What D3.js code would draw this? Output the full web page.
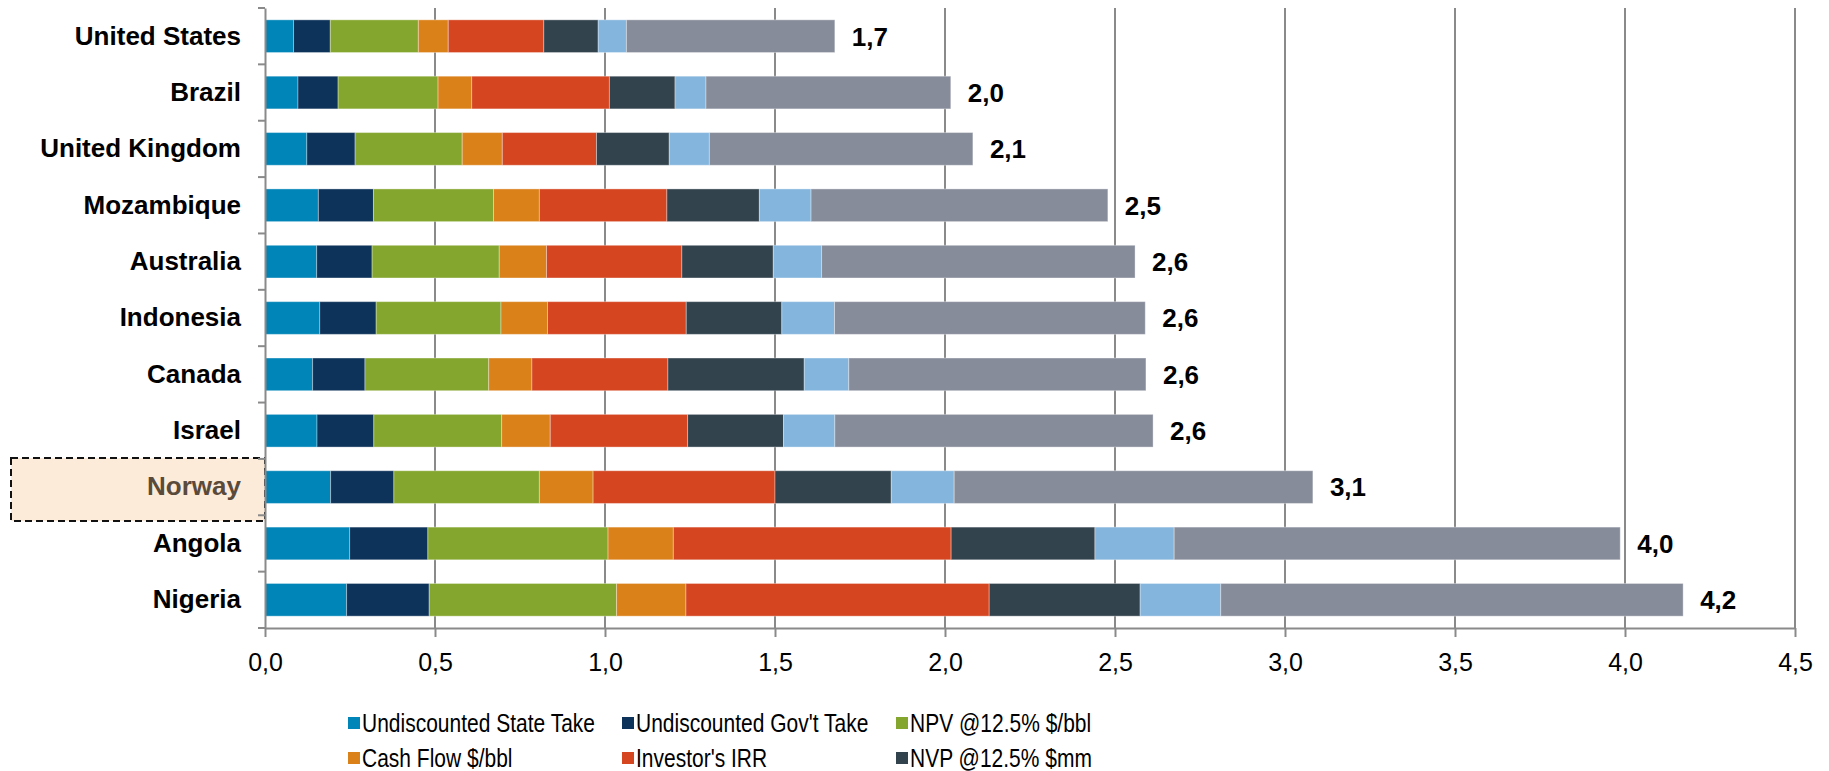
<!DOCTYPE html>
<html>
<head>
<meta charset="utf-8">
<script src="https://cdn.jsdelivr.net/npm/d3@7"></script>
<style>
  html, body { margin: 0; padding: 0; background: #fff; }
  svg { display: block; }
  text { font-family: Arial, "Liberation Sans", sans-serif; }
</style>
</head>
<body>
<svg id="chart" width="1829" height="771"></svg>
<script>
// ---------- data ----------
const categories = ["United States","Brazil","United Kingdom","Mozambique","Australia","Indonesia","Canada","Israel","Norway","Angola","Nigeria"];
const seriesNames = ["Undiscounted State Take","Undiscounted Gov't Take","NPV @12.5% $/bbl","Cash Flow $/bbl","Investor's IRR","NVP @12.5% $mm","Series 7","Series 8"];
const stateTake  = [0.084,0.097,0.123,0.157,0.152,0.161,0.140,0.153,0.193,0.249,0.240];
const govTake    = [0.108,0.118,0.142,0.162,0.163,0.166,0.154,0.167,0.186,0.230,0.243];
const npvBbl     = [0.259,0.294,0.315,0.353,0.374,0.367,0.364,0.376,0.428,0.530,0.551];
const cashFlow   = [0.088,0.099,0.118,0.135,0.139,0.137,0.127,0.143,0.158,0.192,0.204];
const investorIRR= [0.281,0.405,0.277,0.375,0.398,0.408,0.400,0.404,0.535,0.817,0.892];
const nvpMm      = [0.160,0.193,0.214,0.272,0.269,0.281,0.401,0.282,0.342,0.423,0.444];
const series7    = [0.083,0.091,0.118,0.152,0.142,0.155,0.131,0.151,0.185,0.233,0.237];
const series8    = [0.613,0.720,0.775,0.873,0.922,0.914,0.874,0.936,1.055,1.312,1.360];
const xTicks = [0,0.5,1,1.5,2,2.5,3,3.5,4,4.5];
const xTickLabels = ["0,0","0,5","1,0","1,5","2,0","2,5","3,0","3,5","4,0","4,5"];
const legendItems = seriesNames.slice(0, 6);
const highlighted = "Norway";

const colors = ["#0085b8","#0e335a","#84a62e","#db811a","#d44520","#32434e","#84b5dd","#878c9a"];

// ---------- layout ----------
const svg = d3.select("#chart");
const mLeft = 265, mRight = 1795, mTop = 8, mBottom = 628;

const seriesValues = [stateTake, govTake, npvBbl, cashFlow, investorIRR, nvpMm, series7, series8];
const rows = categories.map((c, i) => {
  const r = { category: c };
  seriesNames.forEach((s, k) => r[s] = seriesValues[k][i]);
  return r;
});
const stacked = d3.stack().keys(seriesNames)(rows);

const x = d3.scaleLinear().domain([0, 4.5]).range([mLeft, mRight]);
const y = d3.scaleBand().domain(categories).range([mTop, mBottom]).paddingInner(0.42).paddingOuter(0.21);
const color = d3.scaleOrdinal().domain(seriesNames).range(colors);

const gridColor = "#8a8a8a";

// Highlight box for Norway
svg.append("rect")
  .attr("x", 11).attr("y", y(highlighted) + y.bandwidth()/2 - 29)
  .attr("width", mLeft - 11).attr("height", 63)
  .attr("fill", "#fdebd9")
  .attr("stroke", "#111").attr("stroke-width", 2)
  .attr("stroke-dasharray", "7,4");

// vertical gridlines
svg.append("g").selectAll("line")
  .data(xTicks.filter(d => d > 0))
  .join("line")
  .attr("x1", d => x(d)).attr("x2", d => x(d))
  .attr("y1", mTop).attr("y2", mBottom)
  .attr("stroke", gridColor).attr("stroke-width", 2);

// bars
svg.append("g").selectAll("g")
  .data(stacked)
  .join("g")
  .attr("fill", d => color(d.key))
  .selectAll("rect")
  .data(d => d)
  .join("rect")
  .attr("x", d => x(d[0]))
  .attr("y", d => y(d.data.category))
  .attr("width", d => x(d[1]) - x(d[0]))
  .attr("height", y.bandwidth())
  .attr("stroke", "#ffffff").attr("stroke-opacity", 0.35).attr("stroke-width", 1);

// total labels
const totals = rows.map(r => ({ category: r.category, total: d3.sum(seriesNames, s => r[s]) }));
svg.append("g").selectAll("text")
  .data(totals)
  .join("text")
  .attr("x", d => x(d.total) + 17)
  .attr("y", d => y(d.category) + y.bandwidth()/2)
  .attr("dy", "0.36em")
  .attr("font-size", 26).attr("font-weight", "bold").attr("fill", "#000")
  .text(d => d3.format(".1f")(d.total).replace(".", ","));

// x axis
const xAxis = d3.axisBottom(x).tickValues(xTicks)
  .tickFormat((d, i) => xTickLabels[i]).tickSize(9).tickSizeOuter(0).tickPadding(16);
const gx = svg.append("g").attr("transform", `translate(0,${mBottom})`).call(xAxis);
gx.select(".domain").attr("stroke", gridColor).attr("stroke-width", 2);
gx.selectAll(".tick line").attr("stroke", gridColor).attr("stroke-width", 2);
gx.selectAll(".tick text").attr("font-size", 25).attr("fill", "#000")
  .attr("font-family", "Arial, 'Liberation Sans', sans-serif");

// y axis
const yAxis = d3.axisLeft(y).tickSize(0).tickPadding(24);
const gy = svg.append("g").attr("transform", `translate(${mLeft},0)`).call(yAxis);
gy.select(".domain").attr("stroke", gridColor).attr("stroke-width", 2);
gy.selectAll(".tick text")
  .attr("font-size", 26).attr("font-weight", "bold")
  .attr("font-family", "Arial, 'Liberation Sans', sans-serif")
  .attr("fill", d => d === highlighted ? "#5a4a3b" : "#000");
// category separator ticks
const step = y.step();
const boundaries = d3.range(categories.length + 1).map(i => mTop + i * step);
gy.append("g").selectAll("line")
  .data(boundaries)
  .join("line")
  .attr("x1", -7).attr("x2", 0)
  .attr("y1", d => d).attr("y2", d => d)
  .attr("stroke", gridColor).attr("stroke-width", 2);

// legend
const legend = svg.append("g");
const lg = legend.selectAll("g")
  .data(legendItems)
  .join("g")
  .attr("transform", (d, i) => `translate(${348 + (i % 3) * 274},${723 + Math.floor(i / 3) * 35})`);
lg.append("rect")
  .attr("x", 0).attr("y", -6).attr("width", 12).attr("height", 12)
  .attr("fill", d => color(d));
lg.append("text")
  .attr("transform", "translate(14,0) scale(0.84,1)")
  .attr("dy", "0.36em")
  .attr("font-size", 25).attr("fill", "#000")
  .text(d => d);
</script>
</body>
</html>
